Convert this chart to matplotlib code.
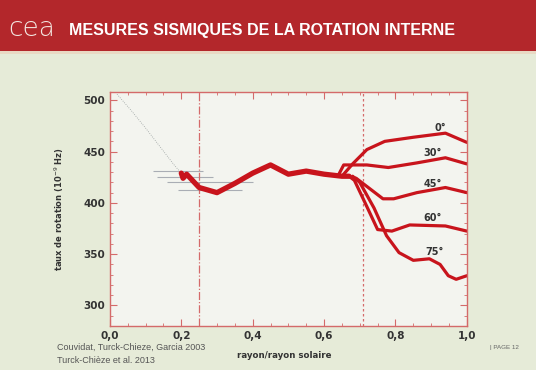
import matplotlib.pyplot as plt
from matplotlib.patches import Rectangle
from matplotlib.ticker import MultipleLocator, FuncFormatter

# rotation rate (nHz) vs r/Rsun
r_core = [0.20, 0.205, 0.215, 0.25, 0.30, 0.35, 0.40, 0.45, 0.50, 0.55, 0.60, 0.65, 0.67]
w_core = [429, 424, 428, 415, 410, 419, 429, 437, 428, 431, 428, 426, 426]

r_0 = [0.65, 0.68, 0.72, 0.77, 0.85, 0.94, 1.0]
w_0 = [426, 438, 452, 460, 464, 468, 459]
r_30 = [0.64, 0.655, 0.72, 0.78, 0.86, 0.94, 1.0]
w_30 = [427, 437, 437, 434.5, 439, 444, 438]
r_45 = [0.67, 0.69, 0.72, 0.765, 0.795, 0.86, 0.94, 1.0]
w_45 = [426, 424, 416, 404, 404, 410, 415, 410]
r_60 = [0.67, 0.685, 0.715, 0.75, 0.79, 0.84, 0.94, 1.0]
w_60 = [426, 422, 400, 374, 372.5, 378.5, 377.5, 372.5]
r_75 = [0.68, 0.70, 0.74, 0.775, 0.81, 0.85, 0.895, 0.925, 0.948, 0.97, 1.0]
w_75 = [426, 420, 395, 368, 351.5, 344, 345.5, 340, 329, 325.5, 329]

lat_labels = ["0°", "30°", "45°", "60°", "75°"]
lat_x = [0.925, 0.905, 0.905, 0.905, 0.91]
lat_y = [473, 449, 418, 385, 352]

# model curve towards the core and error bars of the low-degree data
r_model = [0.02, 0.06, 0.10, 0.14, 0.18, 0.20]
w_model = [506, 490, 473, 455, 437, 429]
r_err = [0.19, 0.21, 0.28, 0.28]
w_err = [431, 425.5, 420, 413]
dr_err = [0.07, 0.078, 0.12, 0.09]

red = "#c8141c"
axcol = "#d46a6a"

fig = plt.figure(figsize=(5.36, 3.70), dpi=100)
fig.patch.set_facecolor("#e6ebd8")

# red header band
fig.patches.append(Rectangle((0, 0.86), 1, 0.14, transform=fig.transFigure,
                             facecolor="#b3272b", edgecolor="none", zorder=0))
fig.patches.append(Rectangle((0, 0.855), 1, 0.006, transform=fig.transFigure,
                             facecolor="#e9d9c4", edgecolor="none", zorder=0))
fig.text(0.016, 0.922, "cea", color="#f3e6e0", fontsize=19, family="DejaVu Sans",
         va="center", ha="left", fontweight="light")
fig.text(0.128, 0.918, "MESURES SISMIQUES DE LA ROTATION INTERNE", color="white",
         fontsize=11.5, fontweight="bold", family="Liberation Sans", va="center", ha="left")

ax = fig.add_axes([0.205, 0.119, 0.666, 0.632])
ax.set_facecolor("#f3f4ef")

ax.plot(r_model, w_model, color="#9aa0a0", lw=0.6, ls=":")
ax.errorbar(r_err, w_err, xerr=dr_err, fmt="none", ecolor="#a9adb4", elinewidth=0.8,
            capsize=0)

ax.axvline(0.25, color=axcol, lw=0.9, ls="-.")
ax.axvline(0.71, color=axcol, lw=0.9, ls="--", dashes=(2, 2))

for rr, ww in [(r_0, w_0), (r_30, w_30), (r_45, w_45), (r_60, w_60), (r_75, w_75)]:
    ax.plot(rr, ww, color=red, lw=2.3, solid_capstyle="round", solid_joinstyle="round")
ax.plot(r_core, w_core, color=red, lw=3.8, solid_capstyle="round", solid_joinstyle="round")

for lab, lx, ly in zip(lat_labels, lat_x, lat_y):
    ax.text(lx, ly, lab, color="#333333", fontsize=7, fontweight="bold",
            ha="center", va="center")

ax.set_xlim(0, 1.0)
ax.set_ylim(280, 508)
ax.xaxis.set_major_locator(MultipleLocator(0.2))
ax.xaxis.set_minor_locator(MultipleLocator(0.05))
ax.yaxis.set_major_locator(MultipleLocator(50))
ax.yaxis.set_minor_locator(MultipleLocator(10))
ax.xaxis.set_major_formatter(FuncFormatter(lambda v, p: f"{v:.1f}".replace(".", ",")))

for s in ax.spines.values():
    s.set_color(axcol)
    s.set_linewidth(1.0)
ax.tick_params(which="both", direction="in", top=True, right=True, colors=axcol,
               labelcolor="#333333", labelsize=7.5)
ax.tick_params(which="major", length=5)
ax.tick_params(which="minor", length=2.5)
for lab in ax.get_xticklabels() + ax.get_yticklabels():
    lab.set_fontweight("bold")

ax.set_ylabel("taux de rotation (10$^{-9}$ Hz)", fontsize=6, fontweight="bold",
              color="#333333", labelpad=12)

fig.text(0.53, 0.04, "rayon/rayon solaire", fontsize=6.2, fontweight="bold",
         color="#333333", ha="center", va="center")
fig.text(0.107, 0.062, "Couvidat, Turck-Chieze, Garcia 2003", fontsize=6.5,
         color="#555555", ha="left", va="center", family="Liberation Sans")
fig.text(0.107, 0.027, "Turck-Chièze et al. 2013", fontsize=6.5,
         color="#555555", ha="left", va="center", family="Liberation Sans")
fig.text(0.915, 0.062, "| PAGE 12", fontsize=4.5, color="#666666",
         ha="left", va="center", family="Liberation Sans")

fig.savefig("out.png", dpi=100, facecolor=fig.get_facecolor())
